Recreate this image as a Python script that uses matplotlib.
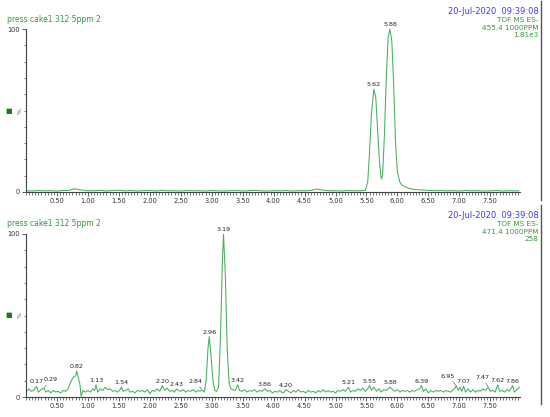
import numpy as np
import matplotlib
matplotlib.use('Agg')
import matplotlib.pyplot as plt
from matplotlib.lines import Line2D
from matplotlib.ticker import MultipleLocator

# Header texts
sample_name = 'press cake1 312 5ppm 2'
run_date = '20-Jul-2020  09:39:08'
top_info = ['TOF MS ES-', '455.4 1000PPM', '1.81e3']
bot_info = ['TOF MS ES-', '471.4 1000PPM', '258']

# Top trace (455.4), retention time (min) / relative intensity (%)
top_t = [0.02, 0.10, 0.20, 0.30, 0.40, 0.50, 0.60, 0.70, 0.78, 0.85, 0.95, 1.05, 1.20, 1.30, 1.40,
         1.50, 1.60, 1.70, 1.80, 1.90, 2.00, 2.10, 2.20, 2.30, 2.40, 2.50, 2.60, 2.70, 2.80, 2.90,
         3.00, 3.10, 3.20, 3.30, 3.40, 3.50, 3.60, 3.70, 3.80, 3.90, 4.00, 4.10, 4.20, 4.30, 4.40,
         4.50, 4.60, 4.70, 4.78, 4.90, 5.00, 5.10, 5.20, 5.30, 5.40, 5.48, 5.52, 5.55, 5.58, 5.62,
         5.65, 5.68, 5.71, 5.74, 5.76, 5.79, 5.82, 5.85, 5.88, 5.91, 5.94, 5.97, 6.00, 6.04, 6.08,
         6.14, 6.20, 6.30, 6.40, 6.50, 6.60, 6.70, 6.80, 6.90, 7.00, 7.10, 7.20, 7.30, 7.40, 7.50,
         7.60, 7.70, 7.80, 7.90, 7.96]
top_y = [0.8, 0.6, 0.9, 0.7, 0.8, 0.6, 0.9, 1.0, 2.0, 1.5, 0.9, 0.7, 1.0, 0.6, 0.9,
         1.1, 0.7, 0.9, 0.6, 0.8, 0.9, 0.6, 1.0, 0.7, 0.8, 0.6, 0.9, 0.7, 0.8, 0.6,
         0.9, 0.7, 0.6, 0.8, 0.9, 0.6, 0.8, 1.0, 0.7, 0.6, 0.8, 0.7, 0.9, 0.6, 0.8,
         0.7, 1.0, 1.8, 1.2, 0.7, 0.8, 0.6, 0.9, 0.7, 0.8, 0.9, 6.0, 25.0, 48.0, 63.0,
         58.0, 38.0, 18.0, 8.0, 10.0, 35.0, 70.0, 95.0, 100.0, 92.0, 65.0, 30.0, 12.0, 6.0, 4.0,
         3.0, 2.0, 1.5, 1.2, 1.0, 0.8, 0.9, 0.7, 0.8, 0.6, 0.9, 0.7, 0.8, 0.6, 0.7,
         0.9, 0.6, 0.8, 0.7, 0.7]
top_peaks = [5.62, 5.88]
top_peak_y = [63.0, 100.0]

# Bottom trace (471.4)
bot_t = [0.02, 0.05, 0.08, 0.12, 0.17, 0.20, 0.24, 0.29, 0.32, 0.36, 0.40, 0.44, 0.48, 0.52, 0.56,
         0.60, 0.64, 0.68, 0.72, 0.76, 0.80, 0.82, 0.85, 0.87, 0.89, 0.92, 0.96, 1.00, 1.04, 1.08,
         1.11, 1.13, 1.16, 1.20, 1.24, 1.28, 1.32, 1.36, 1.40, 1.44, 1.48, 1.51, 1.54, 1.57, 1.61,
         1.65, 1.68, 1.72, 1.76, 1.80, 1.84, 1.88, 1.92, 1.96, 2.00, 2.04, 2.08, 2.12, 2.16, 2.20,
         2.24, 2.28, 2.32, 2.36, 2.40, 2.43, 2.46, 2.50, 2.54, 2.58, 2.62, 2.66, 2.70, 2.74, 2.78,
         2.81, 2.84, 2.88, 2.91, 2.94, 2.96, 2.99, 3.02, 3.05, 3.08, 3.11, 3.14, 3.17, 3.19, 3.22,
         3.25, 3.28, 3.31, 3.34, 3.38, 3.42, 3.45, 3.49, 3.53, 3.57, 3.61, 3.65, 3.69, 3.73, 3.77,
         3.81, 3.86, 3.90, 3.94, 3.98, 4.02, 4.06, 4.10, 4.14, 4.17, 4.20, 4.24, 4.28, 4.32, 4.36,
         4.40, 4.44, 4.48, 4.52, 4.56, 4.60, 4.64, 4.68, 4.72, 4.76, 4.80, 4.84, 4.88, 4.92, 4.96,
         5.00, 5.04, 5.08, 5.12, 5.16, 5.21, 5.24, 5.28, 5.32, 5.36, 5.40, 5.44, 5.48, 5.52, 5.55,
         5.58, 5.62, 5.66, 5.70, 5.74, 5.78, 5.82, 5.85, 5.88, 5.92, 5.96, 6.00, 6.04, 6.08, 6.12,
         6.16, 6.20, 6.24, 6.28, 6.32, 6.36, 6.39, 6.42, 6.46, 6.50, 6.54, 6.58, 6.62, 6.66, 6.70,
         6.74, 6.78, 6.82, 6.86, 6.90, 6.93, 6.95, 6.98, 7.01, 7.04, 7.07, 7.10, 7.14, 7.18, 7.22,
         7.26, 7.30, 7.34, 7.38, 7.42, 7.47, 7.50, 7.54, 7.58, 7.62, 7.65, 7.69, 7.73, 7.77, 7.81,
         7.86, 7.89, 7.93, 7.97]
bot_y = [4.0, 5.0, 3.5, 4.0, 6.5, 3.0, 4.5, 5.5, 3.0, 4.0, 2.5, 4.0, 3.0, 3.5, 2.5,
         4.0, 3.5, 5.0, 9.0, 12.0, 13.0, 16.0, 11.0, 8.0, 0.5, 4.0, 3.0, 4.0, 3.0, 5.0,
         4.0, 7.5, 3.0, 5.0, 4.0, 6.0, 4.5, 5.0, 3.5, 4.0, 3.0, 4.0, 6.0, 3.5, 4.0,
         5.0, 3.0, 3.5, 2.5, 4.0, 3.5, 4.0, 3.0, 4.5, 2.0, 4.0, 3.5, 5.0, 3.5, 7.0,
         4.0, 5.5, 3.5, 4.0, 3.0, 5.0, 4.0, 3.5, 4.5, 3.0, 4.0, 3.5, 4.5, 3.0, 4.0,
         3.5, 4.5, 3.0, 10.0, 30.0, 37.0, 25.0, 10.0, 4.0, 3.5, 6.0, 35.0, 80.0, 100.0, 75.0,
         30.0, 9.0, 5.0, 4.5, 4.0, 7.5, 4.0, 3.5, 4.5, 3.0, 4.0, 3.5, 4.5, 3.0, 4.0,
         3.5, 5.0, 3.5, 4.0, 2.5, 3.5, 3.0, 4.0, 2.5, 3.0, 4.5, 3.5, 2.5, 4.0, 3.0,
         4.5, 3.0, 3.5, 2.5, 4.0, 3.0, 3.5, 2.5, 4.0, 3.0, 4.5, 3.0, 4.0, 3.0, 3.5,
         2.5, 4.0, 3.5, 4.5, 3.5, 6.0, 3.0, 4.0, 3.5, 5.0, 4.0, 5.5, 3.5, 5.0, 7.0,
         4.0, 6.0, 3.5, 5.0, 3.0, 4.5, 4.0, 5.0, 6.0, 4.5, 3.5, 4.5, 3.0, 4.0, 3.5,
         4.0, 3.0, 4.0, 3.5, 4.5, 5.0, 7.0, 3.5, 5.0, 2.5, 4.0, 3.0, 4.0, 3.5, 4.0,
         3.0, 4.0, 3.5, 3.0, 4.5, 5.5, 7.0, 4.0, 6.0, 3.5, 6.5, 3.0, 5.0, 3.0, 4.5,
         3.0, 4.0, 3.5, 5.0, 4.0, 6.0, 3.5, 4.0, 3.0, 7.5, 3.5, 4.0, 3.0, 4.5, 3.5,
         7.0, 3.0, 4.5, 6.0]
bot_peaks = [0.17, 0.29, 0.82, 1.13, 1.54, 2.20, 2.43, 2.84, 2.96, 3.19, 3.42, 3.86, 4.20,
             5.21, 5.55, 5.88, 6.39, 6.95, 7.07, 7.47, 7.62, 7.86]
bot_peak_y = [6.5, 5.5, 16.0, 7.5, 6.0, 7.0, 5.0, 4.5, 37.0, 100.0, 7.5, 5.0, 4.5,
              6.0, 7.0, 6.0, 7.0, 7.0, 6.5, 6.0, 7.5, 7.0]

LINE_GREEN = '#45b05a'
TEXT_GREEN = '#2f9a3a'
DATE_BLUE = '#3b3bff'

# labels that the software pushed aside (offset in points, leader line drawn)
shifted = {'0.29': (4.5, 4), '2.84': (-4.5, 4), '6.95': (-6, 5), '7.47': (-4.5, 5)}

fig = plt.figure(figsize=(5.5, 4.17), dpi=100)


def draw_panel(rect, t, y, peaks, peak_y, info, top_px):
    ax = fig.add_axes(rect)
    ax.plot(t, y, color=LINE_GREEN, lw=0.75)
    ax.set_xlim(0, 7.98)
    ax.set_ylim(0, 100)
    for s in ['top', 'right']:
        ax.spines[s].set_visible(False)
    for s in ['left', 'bottom']:
        ax.spines[s].set_color('#444444')
        ax.spines[s].set_linewidth(0.8)
    xt = [0.5, 1.0, 1.5, 2.0, 2.5, 3.0, 3.5, 4.0, 4.5, 5.0, 5.5, 6.0, 6.5, 7.0, 7.5]
    ax.set_xticks(xt)
    ax.set_xticklabels([f'{v:.2f}' for v in xt])
    ax.xaxis.set_minor_locator(MultipleLocator(0.05))
    ax.set_yticks([0, 100])
    ax.set_yticklabels(['0', '100'])
    ax.yaxis.set_minor_locator(MultipleLocator(10))
    ax.tick_params(axis='both', which='major', labelsize=4.8, length=3, width=0.6,
                   color='#444444', labelcolor='#333333', pad=1.5)
    ax.tick_params(axis='both', which='minor', length=1.8, width=0.5, color='#444444')
    for px, py in zip(peaks, peak_y):
        lab = f'{px:.2f}'
        if lab in shifted:
            dx, dy = shifted[lab]
            ax.annotate(lab, (px, py), xytext=(dx, dy), textcoords='offset points',
                        ha='center', va='bottom', fontsize=4.6, color='#222222',
                        arrowprops=dict(arrowstyle='-', color='#444444', lw=0.4,
                                        shrinkA=0, shrinkB=0.5))
        else:
            ax.annotate(lab, (px, py), xytext=(0, 1.5), textcoords='offset points',
                        ha='center', va='bottom', fontsize=4.6, color='#222222')

    # header texts (figure pixel coords, from the top)
    H = 417.0
    fig.text(7 / 550, 1 - (top_px + 19) / H, sample_name, fontsize=5.5, color=TEXT_GREEN,
             va='center', ha='left')
    fig.text(539 / 550, 1 - (top_px + 11) / H, run_date, fontsize=6, color=DATE_BLUE,
             va='center', ha='right')
    for i, line in enumerate(info):
        fig.text(538 / 550, 1 - (top_px + 20 + 7.7 * i) / H, line, fontsize=5.2,
                 color=TEXT_GREEN, va='center', ha='right')
    # legend square and % label
    fig.text(9 / 550, 1 - (top_px + 111) / H, '\u25a0', fontsize=5, color='#1a7a1a',
             va='center', ha='center')
    fig.text(20 / 550, 1 - (top_px + 111) / H, '%', fontsize=4.5, color='#555555',
             va='center', ha='center', rotation=90)
    # separator line on the right
    fig.add_artist(Line2D([541 / 550, 541 / 550], [1 - (top_px + 1) / H, 1 - (top_px + 200) / H],
                          color='#555555', lw=1.0))
    return ax


ax_top = draw_panel([26 / 550, 225 / 417, 494 / 550, 163 / 417], top_t, top_y,
                    top_peaks, top_peak_y, top_info, 0)
ax_bot = draw_panel([26 / 550, 20 / 417, 494 / 550, 163 / 417], bot_t, bot_y,
                    bot_peaks, bot_peak_y, bot_info, 204)

fig.savefig('out.png', dpi=100)
